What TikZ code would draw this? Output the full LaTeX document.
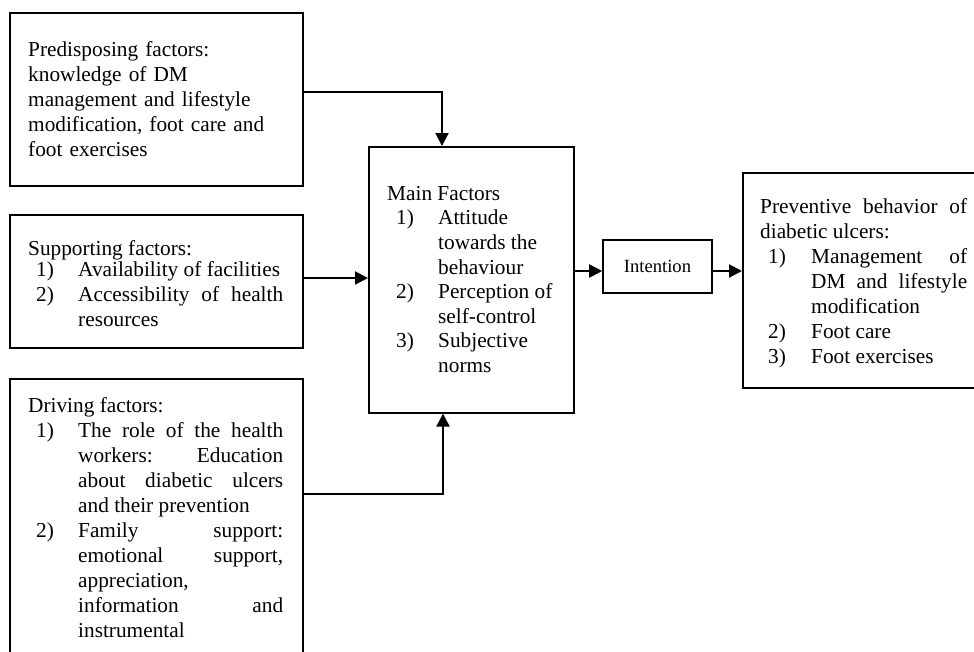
\documentclass[tikz,border=0pt]{standalone}
\usepackage{fontspec}
\setmainfont{Liberation Serif}
\usetikzlibrary{arrows.meta}
\newcommand{\litem}[3]{\par\noindent\hangindent=#1\hangafter=1\makebox[#1][l]{\hspace{#2}#3}\ignorespaces}
\tikzset{
  box/.style={draw=black, line width=1.6pt, rectangle, inner sep=0pt, anchor=north west},
  txt/.style={inner sep=0pt, anchor=north west, align=justify, font=\fontsize{21.3}{25}\selectfont},
  arr/.style={line width=2pt, -{Triangle[length=13pt,width=13pt]}}
}
\begin{document}
\begin{tikzpicture}[x=1pt,y=-1pt]
\useasboundingbox (0,0) rectangle (974,651);
\clip (0,0) rectangle (974,651);

% boxes
\node[box, minimum width=293pt, minimum height=173pt] (b1) at (9,12) {};
\node[box, minimum width=293pt, minimum height=133pt] (b2) at (9,214) {};
\node[box, minimum width=293pt, minimum height=300pt] (b3) at (9,378) {};
\node[box, minimum width=205pt, minimum height=266pt] (main) at (368,146) {};
\node[box, anchor=center, minimum width=109pt, minimum height=53pt, font=\fontsize{18.6}{22}\selectfont] (intent) at (657.5,266.5) {Intention};
\node[box, minimum width=260pt, minimum height=215pt] (right) at (742,172) {};

% texts
\node[txt, text width=265pt, align=left] (t1) at (28,38.5) {\strut Predisposing factors:\\ knowledge of DM\\ management and lifestyle\\ modification, foot care and\\ foot exercises};

\node[txt, text width=255pt] (t2) at (28,237.5) {\noindent\strut Supporting factors:\par\vspace{-4pt}
\litem{50pt}{8pt}{1)}Availability~of~facilities\par
\litem{50pt}{8pt}{2)}Accessibility~of~health\linebreak resources\par};

\node[txt, text width=255pt] (t3) at (28,394.5) {\noindent\strut Driving factors:\par
\litem{50pt}{8pt}{1)}The~role~of~the~health\linebreak workers:~Education\linebreak about~diabetic~ulcers\linebreak and~their~prevention\par
\litem{50pt}{8pt}{2)}Family~support:\linebreak emotional~support,\linebreak appreciation,\newline information~and\linebreak instrumental\par};

\node[txt, text width=170pt, font=\fontsize{21.3}{24.6}\selectfont] (tm) at (387,182.8) {\noindent\strut Main Factors\par
\litem{51pt}{9pt}{1)}Attitude\newline towards~the\newline behaviour\par
\litem{51pt}{9pt}{2)}Perception~of\newline self-control\par
\litem{51pt}{9pt}{3)}Subjective\newline norms\par};

\node[txt, text width=207pt] (tr) at (760,195.5) {\noindent\strut Preventive~behavior~of\linebreak diabetic~ulcers:\par
\litem{51pt}{8pt}{1)}Management~of\linebreak DM~and~lifestyle\linebreak modification\par
\litem{51pt}{8pt}{2)}Foot~care\par
\litem{51pt}{8pt}{3)}Foot~exercises\par};

% connectors
\coordinate (k1) at (442,92);
\coordinate (k2) at (335,278);
\coordinate (k3) at (443,494);
\coordinate (k4) at (590,271);
\draw[arr] (b1.east |- k1) -- (k1) -- (main.north -| k1);
\draw[arr] (b2.east |- k2) -- (main.west |- k2);
\draw[arr] (b3.east |- k3) -- (k3) -- (main.south -| k3);
\draw[arr] (main.east |- k4) -- (intent.west |- k4);
\draw[arr] (intent.east |- k4) -- (right.west |- k4);
\end{tikzpicture}
\end{document}
